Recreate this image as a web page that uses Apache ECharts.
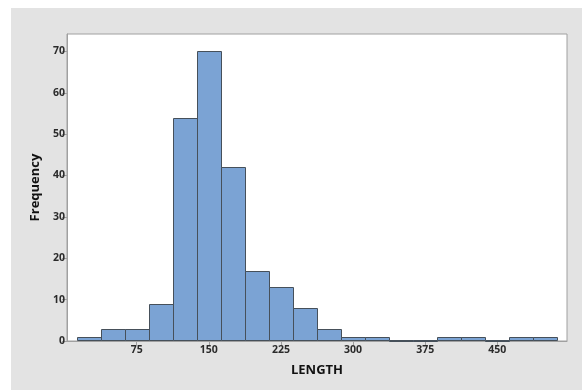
<!DOCTYPE html>
<html>
<head>
<meta charset="utf-8">
<script src="https://cdn.jsdelivr.net/npm/echarts@6/dist/echarts.min.js"></script>
<style>
html,body{margin:0;padding:0;background:#ffffff;}
#bg{position:absolute;left:11px;top:8px;width:571px;height:382px;background:#e3e3e3;}
#chart{position:absolute;left:0;top:0;width:582px;height:390px;}
</style>
</head>
<body>
<div id="bg"></div>
<div id="chart"></div>
<script>
// Histogram data: bin centers (LENGTH), bin width, frequencies
const binCenters = [25, 50, 75, 100, 125, 150, 175, 200, 225, 250, 275, 300, 325, 350, 375, 400, 425, 450, 475, 500];
const binWidth = 25;
const counts = [1, 3, 3, 9, 54, 70, 42, 17, 13, 8, 3, 1, 1, 0, 0, 1, 1, 0, 1, 1];
const xTicks = [75, 150, 225, 300, 375, 450];
const yTicks = [0, 10, 20, 30, 40, 50, 60, 70];
const xTitle = 'LENGTH';
const yTitle = 'Frequency';

const bins = binCenters.map((c, i) => [c - binWidth / 2, c + binWidth / 2, counts[i]]);

const chart = echarts.init(document.getElementById('chart'), null, {renderer: 'canvas'});
const labelFont = {fontFamily: 'Open Sans', fontSize: 10.5, fontWeight: 'bold', color: '#2b2b2b'};
const titleFont = {fontFamily: 'Open Sans', fontSize: 13, fontWeight: 'bold', color: '#111111'};
chart.setOption({
  backgroundColor: 'transparent',
  animation: false,
  grid: {left: 67, top: 34, right: 15, bottom: 49, show: true, backgroundColor: '#ffffff', borderColor: '#a0a0a0', borderWidth: 1},
  xAxis: {
    type: 'value', min: 2.5, max: 522.5,
    name: xTitle, nameLocation: 'middle', nameGap: 23,
    nameTextStyle: titleFont,
    axisLine: {show: true, lineStyle: {color: '#a0a0a0'}},
    axisTick: {show: true, length: 4, lineStyle: {color: '#a0a0a0'}, customValues: xTicks},
    axisLabel: Object.assign({margin: 4, customValues: xTicks}, labelFont),
    splitLine: {show: false}
  },
  yAxis: {
    type: 'value', min: 0, max: 74.2, interval: 10,
    name: yTitle, nameLocation: 'middle', nameGap: 24,
    nameTextStyle: titleFont,
    axisLine: {show: true, lineStyle: {color: '#a0a0a0'}},
    axisTick: {show: true, length: 5, lineStyle: {color: '#a0a0a0'}, customValues: yTicks},
    axisLabel: Object.assign({margin: 2, customValues: yTicks}, labelFont),
    splitLine: {show: false}
  },
  series: [{
    type: 'custom',
    data: bins,
    encode: {x: [0, 1], y: 2},
    renderItem: function (params, api) {
      const p0 = api.coord([api.value(0), 0]);
      const p1 = api.coord([api.value(1), api.value(2)]);
      const x0 = Math.round(p0[0]) + 0.5, x1 = Math.round(p1[0]) + 0.5;
      const y0 = Math.round(p0[1]) - 0.5, y1 = Math.round(p1[1]) + 0.5;
      return {
        type: 'rect',
        shape: {x: x0, y: y1, width: x1 - x0, height: y0 - y1},
        style: {fill: '#7ba3d4', stroke: '#46505a', lineWidth: 1}
      };
    }
  }]
});
</script>
</body>
</html>
